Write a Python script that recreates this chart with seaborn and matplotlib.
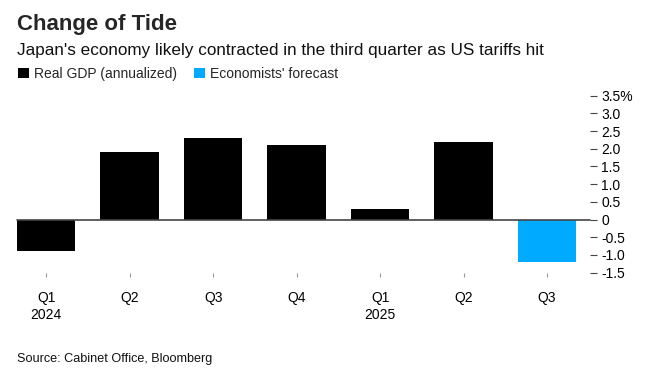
import matplotlib
matplotlib.use("Agg")
import matplotlib.pyplot as plt
import seaborn as sns
import pandas as pd
from matplotlib.patches import Patch

periods = ["2024Q1", "2024Q2", "2024Q3", "2024Q4", "2025Q1", "2025Q2", "2025Q3"]
tick_labels = ["Q1\n2024", "Q2", "Q3", "Q4", "Q1\n2025", "Q2", "Q3"]
gdp = [-0.9, 1.9, 2.3, 2.1, 0.3, 2.2, -1.2]
series = ["Real GDP (annualized)"] * 6 + ["Economists' forecast"]
y_ticks = [3.5, 3.0, 2.5, 2.0, 1.5, 1.0, 0.5, 0, -0.5, -1.0, -1.5]
y_tick_labels = ["3.5%", "3.0", "2.5", "2.0", "1.5", "1.0", "0.5", "0", "-0.5", "-1.0", "-1.5"]

colors = {"Real GDP (annualized)": "#000000", "Economists' forecast": "#00AAFF"}

sns.set_style("white")
plt.rcParams["font.family"] = ["Liberation Sans", "DejaVu Sans"]

df = pd.DataFrame({"period": periods, "value": gdp, "series": series})

fig = plt.figure(figsize=(6.57, 3.82), dpi=100)
ax = fig.add_axes([17 / 657, 1 - 272.7 / 382, (590 - 17) / 657, (272.7 - 95.7) / 382])

sns.barplot(data=df, x="period", y="value", hue="series", palette=colors,
            dodge=False, width=0.7, ax=ax, legend=False, saturation=1, linewidth=0)

ax.set_xlim(-0.35, 6.515)
ax.set_ylim(-1.5, 3.5)
ax.axhline(0, color="#444444", lw=1.2, zorder=3, clip_on=False, xmax=1.0)

for s in ax.spines.values():
    s.set_visible(False)

ax.yaxis.tick_right()
ax.set_yticks(y_ticks)
ax.set_yticklabels(y_tick_labels)
ax.tick_params(axis="y", length=5, width=0.8, color="#444444", pad=3,
               labelsize=10, labelcolor="#000000", right=True, left=False)
ax.set_xticks(range(len(periods)))
ax.set_xticklabels(tick_labels, linespacing=1.3)
ax.tick_params(axis="x", length=3, width=0.8, color="#999999", pad=10,
               labelsize=10, labelcolor="#000000", bottom=True)
for lbl in ax.get_xticklabels():
    lbl.set_verticalalignment("top")
ax.set_xlabel("")
ax.set_ylabel("")
ax.grid(False)

fig.text(17 / 657, 1 - 30 / 382, "Change of Tide", fontsize=16, fontweight="bold",
         ha="left", va="baseline")
fig.text(17 / 657, 1 - 55 / 382, "Japan's economy likely contracted in the third quarter as US tariffs hit",
         fontsize=12.3, ha="left", va="baseline", color="#111111")

handles = [Patch(facecolor=colors[k], edgecolor="none", label=k) for k in colors]
fig.legend(handles=handles, loc="upper left", bbox_to_anchor=(18 / 657, 1 - 67 / 382),
           ncol=2, frameon=False, fontsize=10, handlelength=0.8, handleheight=0.8,
           handletextpad=0.35, columnspacing=1.2, borderaxespad=0, borderpad=0)

fig.text(17 / 657, 1 - 362 / 382, "Source: Cabinet Office, Bloomberg", fontsize=9.1,
         ha="left", va="baseline", color="#111111")

fig.savefig("out.png", dpi=100)
